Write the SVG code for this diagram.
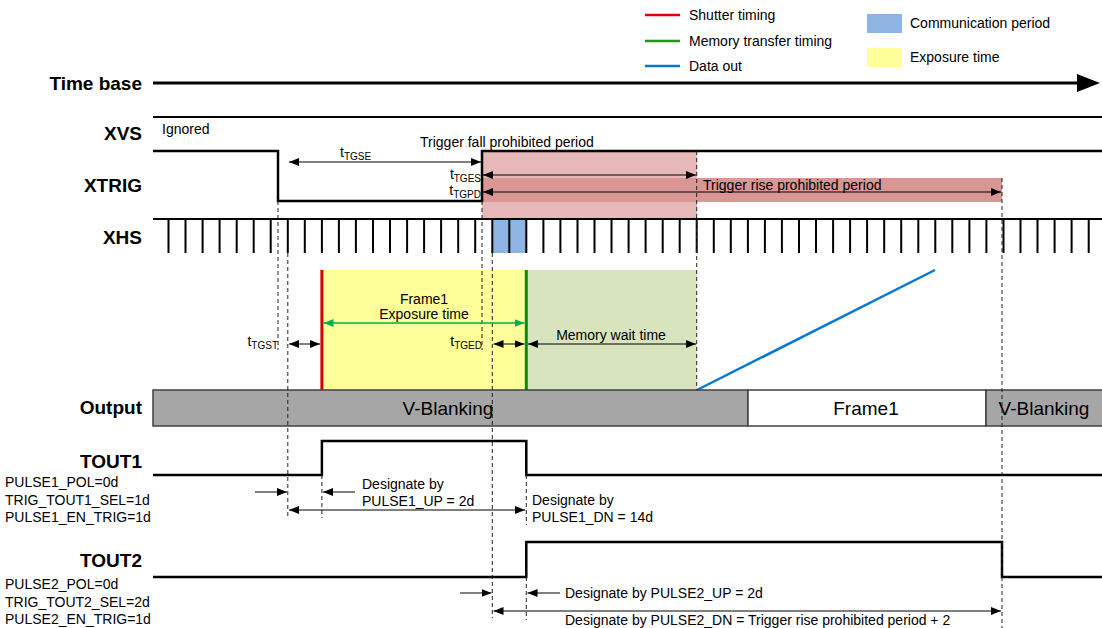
<svg xmlns="http://www.w3.org/2000/svg" width="1102" height="628" viewBox="0 0 1102 628">
<style>
.sig{fill:none;stroke:#000;stroke-width:2.5}
.base{fill:none;stroke:#000;stroke-width:2}
.dash{fill:none;stroke:#222;stroke-width:1;stroke-dasharray:4 3}
.dim{fill:none;stroke:#000;stroke-width:1}
.lbl{font-family:"Liberation Sans",Arial,sans-serif;font-weight:bold;font-size:19px;text-anchor:end;fill:#000}
.t{font-family:"Liberation Sans",Arial,sans-serif;font-size:14px;fill:#000}
.big{font-family:"Liberation Sans",Arial,sans-serif;font-size:19px;fill:#000;text-anchor:middle}
.sub{font-size:10px}
.mid{text-anchor:middle}
.end{text-anchor:end}
</style>
<defs>
<marker id="ah" markerUnits="userSpaceOnUse" markerWidth="11" markerHeight="8" refX="10" refY="4" orient="auto-start-reverse"><path d="M0,0 L10,4 L0,8 z" fill="#000"/></marker>
<marker id="gh" markerUnits="userSpaceOnUse" markerWidth="11" markerHeight="8" refX="10" refY="4" orient="auto-start-reverse"><path d="M0,0 L10,4 L0,8 z" fill="#00b050"/></marker>
</defs>
<rect width="1102" height="628" fill="#fff"/>

<g id="legend">
<line x1="645" y1="15" x2="680" y2="15" stroke="#e00000" stroke-width="2.5"/>
<text class="t" x="689" y="20">Shutter timing</text>
<line x1="645" y1="41" x2="680" y2="41" stroke="#1a9a1a" stroke-width="2.5"/>
<text class="t" x="689" y="46">Memory transfer timing</text>
<line x1="645" y1="66" x2="680" y2="66" stroke="#0a78d0" stroke-width="2.5"/>
<text class="t" x="689" y="71">Data out</text>
<rect x="867" y="14" width="35" height="19" fill="#8eb4e3"/>
<text class="t" x="910" y="28">Communication period</text>
<rect x="867" y="48" width="35" height="19" fill="#ffff99"/>
<text class="t" x="910" y="62">Exposure time</text>
</g>

<g id="timebase">
<text class="lbl" x="142" y="89.5">Time base</text>
<line x1="153" y1="83" x2="1080" y2="83" stroke="#000" stroke-width="3"/>
<path d="M1077,74 L1100,83 L1077,92 z" fill="#000"/>
</g>

<g id="xvs">
<text class="lbl" x="142" y="140">XVS</text>
<line class="base" x1="153" y1="117" x2="1102" y2="117"/>
<text class="t" x="162" y="134">Ignored</text>
</g>

<g id="prohibited">
<rect x="482" y="151" width="215" height="68" fill="#e6b9b8"/>
<rect x="482" y="178" width="520" height="24" fill="#d99694"/>
<text class="t" x="420" y="147">Trigger fall prohibited period</text>
<text class="t" x="703" y="190">Trigger rise prohibited period</text>
</g>

<g id="xtrig">
<text class="lbl" x="142" y="191.5">XTRIG</text>
<path class="sig" d="M153,151 H278 V201 H482 V151 H1102"/>
</g>

<g id="xhs">
<text class="lbl" x="142" y="243.5">XHS</text>
<rect x="492.3" y="219" width="34" height="34" fill="#8eb4e3"/>
<line class="base" x1="153" y1="219" x2="1102" y2="219"/>
<path class="base" d="M168.5,219V253 M185.5,219V253 M202.6,219V253 M219.6,219V253 M236.7,219V253 M253.7,219V253 M270.7,219V253 M287.8,219V253 M304.8,219V253 M321.9,219V253 M338.9,219V253 M355.9,219V253 M373,219V253 M390,219V253 M407.1,219V253 M424.1,219V253 M441.1,219V253 M458.2,219V253 M475.2,219V253 M492.3,219V253 M509.3,219V253 M526.3,219V253 M543.4,219V253 M560.4,219V253 M577.5,219V253 M594.5,219V253 M611.5,219V253 M628.6,219V253 M645.6,219V253 M662.7,219V253 M679.7,219V253 M696.7,219V253 M713.8,219V253 M730.8,219V253 M747.9,219V253 M764.9,219V253 M781.9,219V253 M799,219V253 M816,219V253 M833.1,219V253 M850.1,219V253 M867.1,219V253 M884.2,219V253 M901.2,219V253 M918.3,219V253 M935.3,219V253 M952.3,219V253 M969.4,219V253 M986.4,219V253 M1003.5,219V253 M1020.5,219V253 M1037.5,219V253 M1054.6,219V253 M1071.6,219V253 M1088.7,219V253"/>
</g>

<g id="exposure">
<rect x="321.9" y="270" width="204.4" height="120" fill="#ffff99"/>
<rect x="526.3" y="270" width="170.4" height="120" fill="#d7e4bd"/>
<line x1="321.9" y1="270" x2="321.9" y2="390" stroke="#d40000" stroke-width="3"/>
<line x1="526.3" y1="270" x2="526.3" y2="390" stroke="#0d8a0d" stroke-width="3"/>
<text class="t mid" x="424" y="304">Frame1</text>
<text class="t mid" x="424" y="319">Exposure time</text>
<text class="t mid" x="611" y="340">Memory wait time</text>
<line x1="697" y1="390" x2="935" y2="270" stroke="#0a78d0" stroke-width="2.5"/>
</g>

<g id="output">
<text class="lbl" x="142" y="414">Output</text>
<rect x="153" y="390" width="595" height="36" fill="#a6a6a6" stroke="#404040" stroke-width="1.5"/>
<rect x="748" y="390" width="238" height="36" fill="#fff" stroke="#404040" stroke-width="1.5"/>
<rect x="986" y="390" width="118" height="36" fill="#a6a6a6" stroke="#404040" stroke-width="1.5"/>
<text class="big" x="448" y="415">V-Blanking</text>
<text class="big" x="866" y="415">Frame1</text>
<text class="big" x="1044" y="415">V-Blanking</text>
</g>

<g id="tout1">
<text class="lbl" x="142" y="468">TOUT1</text>
<path class="sig" d="M153,475 H321.9 V441 H526.3 V475 H1102"/>
<text class="t" x="5" y="487">PULSE1_POL=0d</text>
<text class="t" x="5" y="505">TRIG_TOUT1_SEL=1d</text>
<text class="t" x="5" y="522">PULSE1_EN_TRIG=1d</text>
<text class="t" x="362" y="489">Designate by</text>
<text class="t" x="362" y="506">PULSE1_UP = 2d</text>
<text class="t" x="532" y="505">Designate by</text>
<text class="t" x="532" y="522">PULSE1_DN = 14d</text>
</g>

<g id="tout2">
<text class="lbl" x="142" y="567">TOUT2</text>
<path class="sig" d="M153,577 H526.3 V542 H1002 V577 H1102"/>
<text class="t" x="5" y="589">PULSE2_POL=0d</text>
<text class="t" x="5" y="607">TRIG_TOUT2_SEL=2d</text>
<text class="t" x="5" y="624">PULSE2_EN_TRIG=1d</text>
<text class="t" x="565" y="598">Designate by PULSE2_UP = 2d</text>
<text class="t" x="565" y="625">Designate by PULSE2_DN = Trigger rise prohibited period + 2</text>
</g>

<g id="timing-labels">
<text class="t" x="340" y="157">t<tspan class="sub" dy="3">TGSE</tspan></text>
<text class="t end" x="481" y="179">t<tspan class="sub" dy="3">TGES</tspan></text>
<text class="t end" x="481" y="195">t<tspan class="sub" dy="3">TGPD</tspan></text>
<text class="t end" x="278" y="346">t<tspan class="sub" dy="3">TGST</tspan></text>
<text class="t end" x="482" y="346">t<tspan class="sub" dy="3">TGED</tspan></text>
</g>

<g id="connectors">
<path class="dash" d="M278,201 V350 M287.8,253 V518 M482,201 V350 M492.3,253 V618 M696.7,151 V390 M1002,178 V628 M321.9,475 V518 M526.3,475 V525 M526.3,577 V620"/>
<line class="dim" x1="289" y1="162" x2="481" y2="162" marker-start="url(#ah)" marker-end="url(#ah)"/>
<line class="dim" x1="483" y1="175" x2="696" y2="175" marker-start="url(#ah)" marker-end="url(#ah)"/>
<line class="dim" x1="483" y1="192" x2="1001" y2="192" marker-start="url(#ah)" marker-end="url(#ah)"/>
<line x1="323.5" y1="323" x2="524.5" y2="323" stroke="#00b050" stroke-width="1.3" marker-start="url(#gh)" marker-end="url(#gh)"/>
<line class="dim" x1="289" y1="344" x2="320" y2="344" marker-start="url(#ah)" marker-end="url(#ah)"/>
<line class="dim" x1="493.5" y1="344" x2="524.5" y2="344" marker-start="url(#ah)" marker-end="url(#ah)"/>
<line class="dim" x1="528" y1="344" x2="696" y2="344" marker-start="url(#ah)" marker-end="url(#ah)"/>
<line class="dim" x1="255" y1="492" x2="287" y2="492" marker-end="url(#ah)"/>
<line class="dim" x1="355" y1="492" x2="323" y2="492" marker-end="url(#ah)"/>
<line class="dim" x1="289" y1="510" x2="525" y2="510" marker-start="url(#ah)" marker-end="url(#ah)"/>
<line class="dim" x1="460" y1="593" x2="491.5" y2="593" marker-end="url(#ah)"/>
<line class="dim" x1="560" y1="593" x2="527.5" y2="593" marker-end="url(#ah)"/>
<line class="dim" x1="493.5" y1="611" x2="1001" y2="611" marker-start="url(#ah)" marker-end="url(#ah)"/>
</g>
</svg>
